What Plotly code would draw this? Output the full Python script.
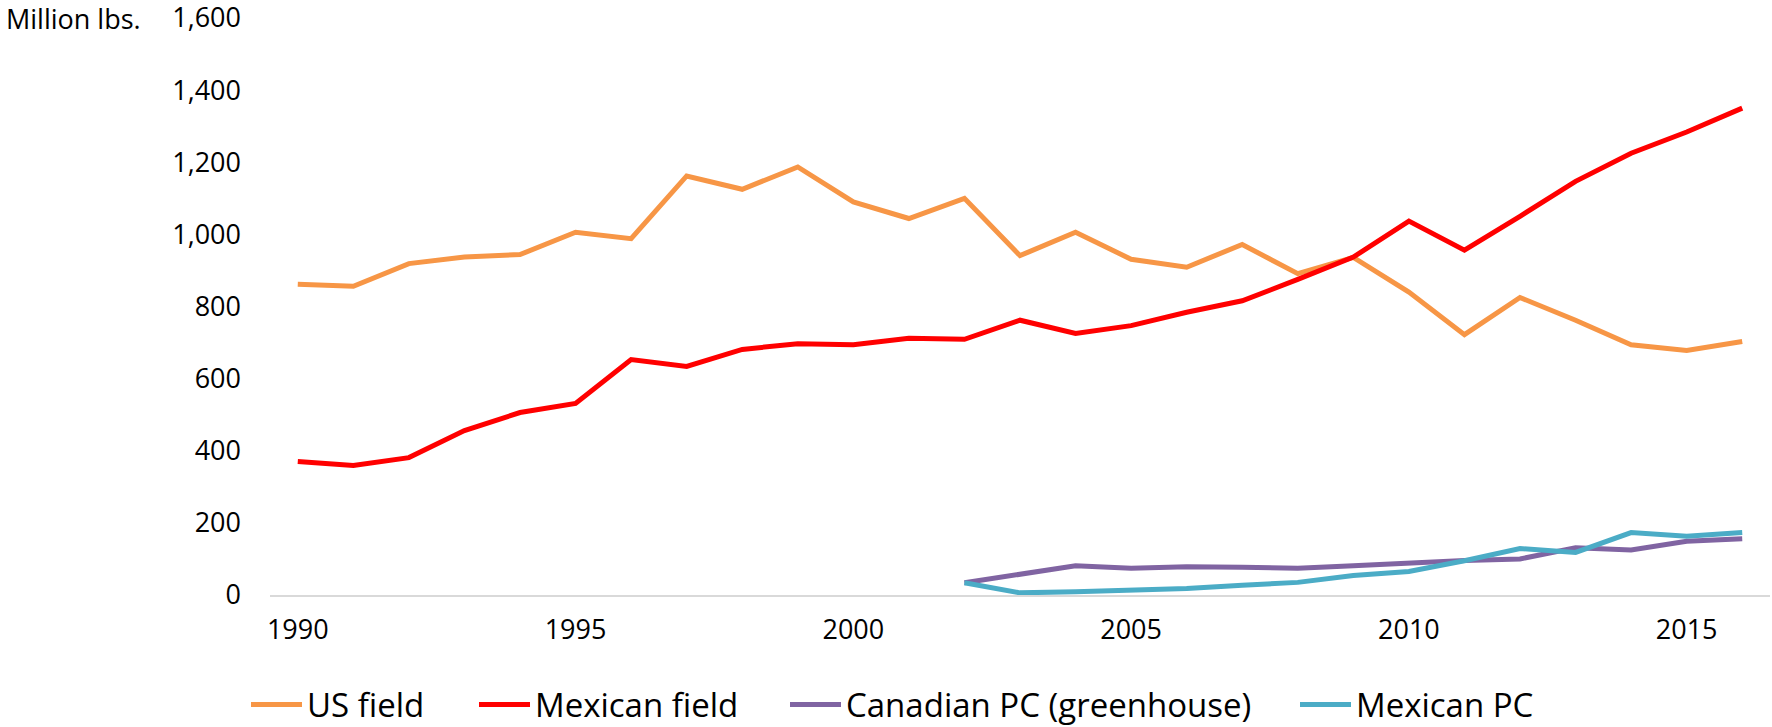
import plotly.graph_objects as go

years = list(range(1990, 2017))

us_field = [862, 856, 919, 937, 944, 1006, 988, 1162, 1125, 1187, 1090, 1044, 1100,
            941, 1006, 931, 909, 972, 891, 936, 840, 722, 825, 762, 694, 678, 703]

mexican_field = [370, 359, 381, 456, 506, 531, 653, 634, 681, 697, 694, 712, 709,
                 762, 725, 747, 784, 816, 875, 937, 1037, 956, 1050, 1147, 1225, 1284, 1350]

canadian_pc = [None] * 12 + [34, 58, 81, 74, 78, 77, 74, 81, 89, 96, 100, 131, 125, 149, 156]

mexican_pc = [None] * 12 + [34, 6, 9, 14, 18, 27, 35, 54, 65, 95, 129, 118, 173, 163, 173]

series_names = ["US field", "Mexican field", "Canadian PC (greenhouse)", "Mexican PC"]
series_values = [us_field, mexican_field, canadian_pc, mexican_pc]
series_colors = ["#F79646", "#FF0000", "#8064A2", "#4BACC6"]
legend_widths = [162, 245, 444, None]

x_ticks = [1990, 1995, 2000, 2005, 2010, 2015]
y_ticks = [0, 200, 400, 600, 800, 1000, 1200, 1400, 1600]

fig = go.Figure()
for name, vals, color, lw in zip(series_names, series_values, series_colors, legend_widths):
    kw = {}
    if lw is not None:
        kw["legendwidth"] = lw
    fig.add_trace(go.Scatter(
        x=years, y=vals, name=name, mode="lines",
        line=dict(color=color, width=5),
        connectgaps=False, **kw,
    ))

FONT = "Open Sans"
fig.update_layout(
    width=1772, height=727,
    margin=dict(l=270, r=2, t=18, b=132, autoexpand=False),
    paper_bgcolor="white", plot_bgcolor="white",
    font=dict(family=FONT, size=27, color="#000000"),
    showlegend=True,
    legend=dict(
        orientation="h", x=-0.016, xanchor="left", y=-0.19, yanchor="middle",
        font=dict(family=FONT, size=33, color="#000000"),
        itemwidth=51, traceorder="normal",
    ),
    xaxis=dict(
        range=[1989.5, 2016.5],
        tickvals=x_ticks, ticktext=[str(t) for t in x_ticks],
        showgrid=False, zeroline=False,
        showline=True, linecolor="#D9D9D9", linewidth=2,
        ticks="", ticklabelstandoff=10,
        tickfont=dict(family=FONT, size=27, color="#000000"),
    ),
    yaxis=dict(
        range=[0, 1600],
        tickvals=y_ticks, ticktext=[f"{v:,}" for v in y_ticks],
        showgrid=False, zeroline=False, showline=False,
        ticks="", ticklabelstandoff=28, ticklabeloverflow="allow",
        tickfont=dict(family=FONT, size=27, color="#000000"),
    ),
    annotations=[dict(
        text="Million lbs.", xref="paper", yref="paper",
        x=(4 - 270) / 1500, y=1.0, xanchor="left", yanchor="middle",
        showarrow=False, font=dict(family=FONT, size=27, color="#000000"),
    )],
)

# remove the browser's default 8px body margin so the figure fills the window exactly
fig.write_html(
    "out.html",
    config={"displayModeBar": False},
    post_script="document.body.style.margin='0px';",
)
